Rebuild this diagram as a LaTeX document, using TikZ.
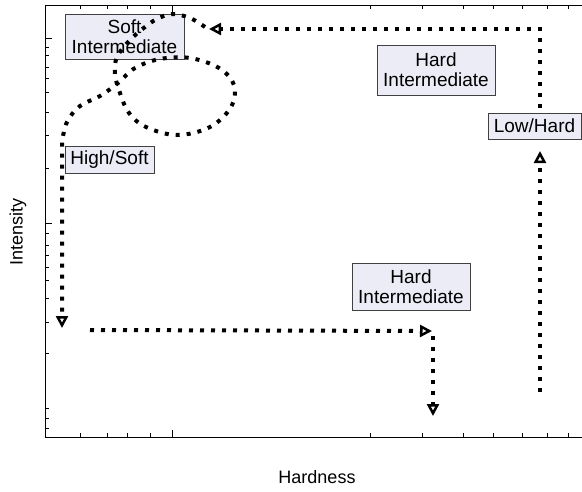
\documentclass[tikz,border=0pt]{standalone}
\usepackage{fontspec}
\setmainfont{Liberation Sans}
\usetikzlibrary{arrows.meta}

\tikzset{
  labelbox/.style={draw=black!75, line width=1pt,
    fill={rgb,255:red,236;green,236;blue,246},
    align=center, inner sep=0pt, font=\fontsize{19}{20}\selectfont},
  flow/.style={line width=4pt, dash pattern=on 4pt off 7pt,
    -{Triangle[open,length=12pt,width=12pt,line width=2.5pt]}}
}

\begin{document}
\begin{tikzpicture}[x=1pt, y=-1pt, line width=1pt]
	\useasboundingbox (0,0) rectangle (582,491);

	% Рамка графика
	\draw (45,5) -- (582,5);
	\draw (45,5) -- (45,437) -- (582,437);

	% Деления
	\foreach \t in {47,55,67,78,92,112,135,168,233,245,255,267,280,298,322,353,408,418,428}
		\draw (45,\t) -- (49,\t);
	\foreach \t in {38,223}
		\draw (45,\t) -- (52,\t);
	\foreach \t in {80,107,127,150,370,422,463,493,522,547,568} {
		\draw (\t,5) -- (\t,9);
		\draw (\t,437) -- (\t,433);
	}
	\draw (172,5) -- (172,12);
	\draw (172,437) -- (172,430);

	% Подписи осей
	\node[font=\fontsize{18}{20}\selectfont] (hardness) at (317,477) {Hardness};
	\node[font=\fontsize{18}{20}\selectfont, rotate=90] (intensity) at (18,232) {Intensity};

	% Области
	\node[labelbox, minimum width=119pt, minimum height=45pt] (softint) at (124.5,36.5) {Soft\\Intermediate};
	\node[labelbox, minimum width=89pt, minimum height=27pt] (highsoft) at (109.5,159.5) {High/Soft};
	\node[labelbox, minimum width=118pt, minimum height=50pt] (hardinttop) at (436,70) {Hard\\Intermediate};
	\node[labelbox, minimum width=93pt, minimum height=26pt] (lowhard) at (534.5,126) {Low/Hard};
	\node[labelbox, minimum width=118pt, minimum height=47pt] (hardintbot) at (411,286.5) {Hard\\Intermediate};

	% Точки путей
	\coordinate (lowstart) at (540,392);
	\coordinate (lowtip) at (540,151);
	\coordinate (upstart) at (540,108);
	\coordinate (toptip) at (209,29);
	\coordinate (loopstart) at (205,27);
	\coordinate (looptip) at (62,328);
	\coordinate (botstart) at (90,330);
	\coordinate (bottip) at (432,331);
	\coordinate (dropstart) at (433,336);
	\coordinate (droptip) at (433,416);

	% Пути
	\draw[flow] (lowstart) -- (lowtip);
	\draw[flow] (upstart) |- (toptip);
	\draw[flow] plot[smooth, tension=0.6] coordinates {(loopstart) (190,18) (172,14) (157,19) (145,27)
		(130,40) (117,57) (115,74) (120,93) (129,113) (146,127) (177,135) (210,127) (231,107)
		(234,85) (219,68) (190,58) (160,59) (135,68) (118,83) (100,96) (80,106) (67,122) (62,142)}
		-- (looptip);
	\draw[flow] (botstart) -- (bottip);
	\draw[flow] (dropstart) -- (droptip);
\end{tikzpicture}
\end{document}
